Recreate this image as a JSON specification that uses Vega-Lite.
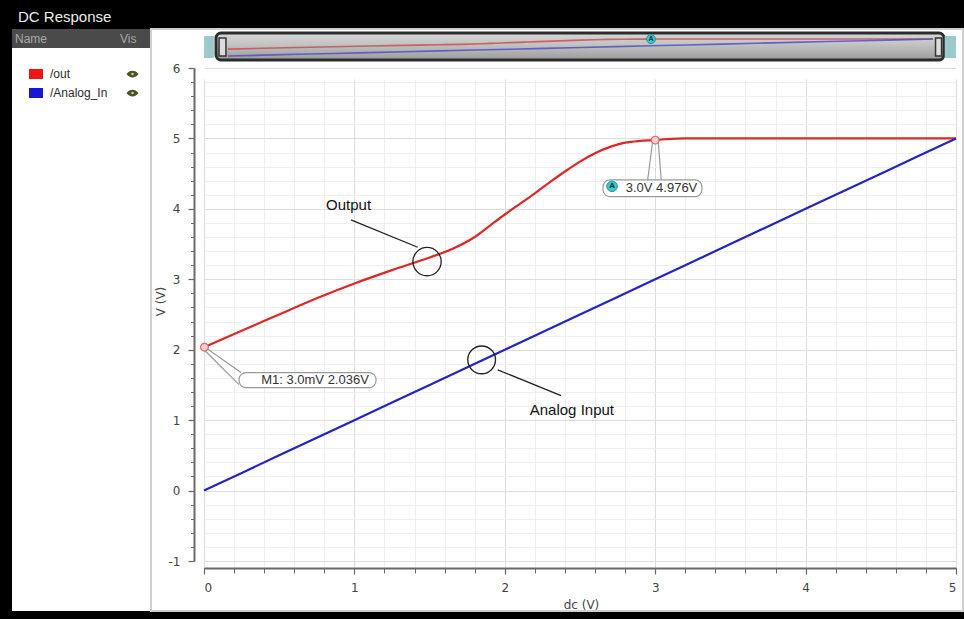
{
  "$schema": "https://vega.github.io/schema/vega-lite/v6.json",
  "background": "#000000",
  "padding": {"left": 12, "right": 2, "top": 10, "bottom": 9},
  "title": {"text": "DC Response", "anchor": "start", "color": "#ececec", "fontSize": 15, "font": "Liberation Sans", "fontWeight": "normal", "offset": 3, "dx": 6},
  "config": {"view": {"stroke": null}, "concat": {"spacing": 0}},
  "datasets": {
    "curves": [
      {"signal": "/out", "dc": 0, "v": 2.036},
      {"signal": "/out", "dc": 0.25, "v": 2.27},
      {"signal": "/out", "dc": 0.5, "v": 2.5},
      {"signal": "/out", "dc": 0.75, "v": 2.73},
      {"signal": "/out", "dc": 1, "v": 2.94},
      {"signal": "/out", "dc": 1.25, "v": 3.13},
      {"signal": "/out", "dc": 1.5, "v": 3.31},
      {"signal": "/out", "dc": 1.65, "v": 3.43},
      {"signal": "/out", "dc": 1.8, "v": 3.6},
      {"signal": "/out", "dc": 1.9, "v": 3.76},
      {"signal": "/out", "dc": 2, "v": 3.92},
      {"signal": "/out", "dc": 2.1, "v": 4.07},
      {"signal": "/out", "dc": 2.2, "v": 4.22},
      {"signal": "/out", "dc": 2.3, "v": 4.38},
      {"signal": "/out", "dc": 2.4, "v": 4.53},
      {"signal": "/out", "dc": 2.5, "v": 4.67},
      {"signal": "/out", "dc": 2.6, "v": 4.79},
      {"signal": "/out", "dc": 2.7, "v": 4.88},
      {"signal": "/out", "dc": 2.8, "v": 4.94},
      {"signal": "/out", "dc": 2.9, "v": 4.965},
      {"signal": "/out", "dc": 3, "v": 4.976},
      {"signal": "/out", "dc": 3.1, "v": 4.995},
      {"signal": "/out", "dc": 3.2, "v": 5},
      {"signal": "/out", "dc": 3.5, "v": 5},
      {"signal": "/out", "dc": 4, "v": 5},
      {"signal": "/out", "dc": 4.5, "v": 5},
      {"signal": "/out", "dc": 5, "v": 5},
      {"signal": "/Analog_In", "dc": 0, "v": 0},
      {"signal": "/Analog_In", "dc": 0.5, "v": 0.5},
      {"signal": "/Analog_In", "dc": 1, "v": 1},
      {"signal": "/Analog_In", "dc": 1.5, "v": 1.5},
      {"signal": "/Analog_In", "dc": 2, "v": 2},
      {"signal": "/Analog_In", "dc": 2.5, "v": 2.5},
      {"signal": "/Analog_In", "dc": 3, "v": 3},
      {"signal": "/Analog_In", "dc": 3.5, "v": 3.5},
      {"signal": "/Analog_In", "dc": 4, "v": 4},
      {"signal": "/Analog_In", "dc": 4.5, "v": 4.5},
      {"signal": "/Analog_In", "dc": 5, "v": 5}
    ],
    "signals": [{"signal": "/out"}, {"signal": "/Analog_In"}],
    "header": [{"col": "Name"}, {"col": "Vis"}],
    "one": [{}]
  },
  "hconcat": [
    {
      "vconcat": [
        {
          "width": 103, "height": 19,
          "view": {"fill": "#4a4a4a", "stroke": null},
          "data": {"name": "header"},
          "transform": [{"filter": "datum.col === 'Name'"}],
          "mark": {"type": "text", "align": "left", "baseline": "middle", "font": "Liberation Sans", "fontSize": 12, "color": "#a8a8a8"},
          "encoding": {
            "x": {"field": "col", "type": "nominal", "scale": {"type": "point", "domain": ["Name"], "range": [3, 103], "padding": 0, "align": 0}, "axis": null},
            "text": {"field": "col"}
          }
        },
        {
          "width": 103, "height": 563,
          "view": {"fill": "#ffffff", "stroke": null},
          "data": {"name": "signals"},
          "encoding": {
            "y": {"field": "signal", "type": "nominal", "scale": {"type": "point", "domain": ["/out", "/Analog_In"], "range": [26, 45], "padding": 0}, "axis": null}
          },
          "layer": [
            {
              "mark": {"type": "point", "shape": "M-1.4,-1H1.4V1H-1.4Z", "size": 100, "filled": true, "opacity": 1},
              "encoding": {
                "x": {"datum": "swatch", "type": "nominal", "scale": {"type": "point", "domain": ["swatch", "label"], "range": [24, 38], "padding": 0}, "axis": null},
                "color": {"field": "signal", "type": "nominal", "scale": {"domain": ["/out", "/Analog_In"], "range": ["#f01414", "#1616d6"]}, "legend": null}
              }
            },
            {
              "mark": {"type": "text", "align": "left", "baseline": "middle", "font": "Liberation Sans", "fontSize": 12, "color": "#2a2a2a"},
              "encoding": {
                "x": {"datum": "label", "type": "nominal"},
                "text": {"field": "signal"}
              }
            }
          ]
        }
      ]
    },
    {
      "vconcat": [
        {
          "width": 35, "height": 19,
          "view": {"fill": "#4a4a4a", "stroke": null},
          "data": {"name": "header"},
          "transform": [{"filter": "datum.col === 'Vis'"}],
          "mark": {"type": "text", "align": "left", "baseline": "middle", "font": "Liberation Sans", "fontSize": 12, "color": "#a8a8a8"},
          "encoding": {
            "x": {"field": "col", "type": "nominal", "scale": {"type": "point", "domain": ["Vis"], "range": [5, 35], "padding": 0, "align": 0}, "axis": null},
            "text": {"field": "col"}
          }
        },
        {
          "width": 35, "height": 563,
          "view": {"fill": "#ffffff", "stroke": null},
          "data": {"name": "signals"},
          "encoding": {
            "y": {"field": "signal", "type": "nominal", "scale": {"type": "point", "domain": ["/out", "/Analog_In"], "range": [26, 45], "padding": 0}, "axis": null}
          },
          "layer": [
            {"mark": {"type": "point", "shape": "M-1,0C-0.5,-0.75 0.5,-0.75 1,0C0.5,0.75 -0.5,0.75 -1,0Z", "size": 144, "filled": true, "color": "#4b5224", "opacity": 1}},
            {"mark": {"type": "point", "shape": "circle", "size": 7, "filled": true, "color": "#c9cc8a", "opacity": 1}}
          ]
        }
      ]
    },
    {
      "width": 812, "height": 582,
      "view": {"fill": "#ffffff", "stroke": "#cfcfcf", "strokeWidth": 2},
      "resolve": {"scale": {"x": "independent", "y": "independent", "color": "independent"}},
      "layer": [
        {
          "data": {"name": "curves"},
          "resolve": {"axis": {"x": "independent", "y": "independent"}},
          "layer": [
            {
              "data": {"name": "one"},
              "mark": {"type": "rect", "cornerRadius": 5, "stroke": "#2b2b2b", "strokeWidth": 3,
                "fill": {"gradient": "linear", "x1": 0, "y1": 0, "x2": 0, "y2": 1, "stops": [{"offset": 0, "color": "#d6d6d6"}, {"offset": 0.4, "color": "#c4c4c4"}, {"offset": 1, "color": "#9c9c9c"}]}},
              "encoding": {
                "x": {"datum": 0.08, "type": "quantitative", "scale": {"domain": [0, 5], "range": [53, 805]},
                  "axis": {"orient": "bottom", "offset": -43, "values": [0, 0.2, 0.4, 0.6, 0.8, 1, 1.2, 1.4, 1.6, 1.8, 2, 2.2, 2.4, 2.6, 2.8, 3, 3.2, 3.4, 3.6, 3.8, 4, 4.2, 4.4, 4.6, 4.8, 5], "labels": false, "domain": false, "ticks": true, "tickSize": 5, "tickColor": "#666666", "tickWidth": 1, "grid": true, "gridColor": "#eeeeee", "gridWidth": 1, "title": null}},
                "x2": {"datum": 4.92},
                "y": {"datum": 6.497, "type": "quantitative", "scale": {"domain": [-1, 6], "range": [532, 39]},
                  "axis": {"orient": "left", "offset": -43, "values": [-1, -0.8, -0.6, -0.4, -0.2, 0, 0.2, 0.4, 0.6, 0.8, 1, 1.2, 1.4, 1.6, 1.8, 2, 2.2, 2.4, 2.6, 2.8, 3, 3.2, 3.4, 3.6, 3.8, 4, 4.2, 4.4, 4.6, 4.8, 5, 5.2, 5.4, 5.6, 5.8, 6], "labels": false, "domain": false, "ticks": true, "tickSize": 3.5, "tickColor": "#666666", "tickWidth": 1, "grid": true, "gridColor": "#eeeeee", "gridWidth": 1, "title": null}},
                "y2": {"datum": 6.114}
              }
            },
            {
              "data": {"name": "one"},
              "mark": {"type": "rect", "color": "#9ccaca", "opacity": 1},
              "encoding": {"x": {"datum": 0.0, "axis": null}, "x2": {"datum": 0.066}, "y": {"datum": 6.454, "axis": null}, "y2": {"datum": 6.142}}
            },
            {
              "data": {"name": "one"},
              "mark": {"type": "rect", "color": "#9ccaca", "opacity": 1},
              "encoding": {"x": {"datum": 4.925, "axis": null}, "x2": {"datum": 5.0}, "y": {"datum": 6.454, "axis": null}, "y2": {"datum": 6.142}}
            },
            {
              "data": {"name": "one"},
              "mark": {"type": "rect", "fill": "#dcdcdc", "stroke": "#333333", "strokeWidth": 1.5},
              "encoding": {"x": {"datum": 0.1, "axis": null}, "x2": {"datum": 0.146}, "y": {"datum": 6.426, "axis": null}, "y2": {"datum": 6.17}}
            },
            {
              "data": {"name": "one"},
              "mark": {"type": "rect", "fill": "#dcdcdc", "stroke": "#333333", "strokeWidth": 1.5},
              "encoding": {"x": {"datum": 4.864, "axis": null}, "x2": {"datum": 4.904}, "y": {"datum": 6.426, "axis": null}, "y2": {"datum": 6.17}}
            },
            {
              "mark": {"type": "line", "strokeWidth": 2.2, "interpolate": "monotone"},
              "encoding": {
                "x": {"field": "dc", "type": "quantitative", "scale": {"domain": [0, 5], "range": [53, 805]},
                  "axis": {"orient": "bottom", "offset": -43, "values": [0, 1, 2, 3, 4, 5], "labelExpr": "'' + datum.value", "labelFont": "DejaVu Sans", "labelFontSize": 12, "labelColor": "#444444", "labelPadding": 8, "tickSize": 6, "tickColor": "#666666", "tickWidth": 1.2, "domainColor": "#6a6a6a", "domainWidth": 2, "grid": true, "gridColor": "#dcdcdc", "gridWidth": 1,
                    "title": "dc (V)", "titleFont": "DejaVu Sans", "titleFontSize": 12, "titleFontWeight": "normal", "titleColor": "#444444", "titleX": 430, "titleY": 31, "titleBaseline": "top", "titleAlign": "center"}},
                "y": {"field": "v", "type": "quantitative", "scale": {"domain": [-1, 6], "range": [532, 39]},
                  "axis": {"orient": "left", "offset": -43, "values": [-1, 0, 1, 2, 3, 4, 5, 6], "labelExpr": "'' + datum.value", "labelFont": "DejaVu Sans", "labelFontSize": 12, "labelColor": "#444444", "labelPadding": 8, "tickSize": 6, "tickColor": "#666666", "tickWidth": 1.2, "domainColor": "#6a6a6a", "domainWidth": 2, "grid": true, "gridColor": "#dcdcdc", "gridWidth": 1,
                    "title": "V (V)", "titleFont": "DejaVu Sans", "titleFontSize": 12, "titleFontWeight": "normal", "titleColor": "#444444", "titleX": -27, "titleY": 272, "titleAngle": 270, "titleBaseline": "bottom", "titleAlign": "center"}},
                "color": {"field": "signal", "type": "nominal", "scale": {"domain": ["/out", "/Analog_In"], "range": ["#e02626", "#2424c4"]}, "legend": null}
              }
            },
            {
              "data": {"name": "one"},
              "mark": {"type": "point", "shape": "circle", "size": 800, "filled": false, "stroke": "#222222", "strokeWidth": 1.3, "opacity": 1},
              "encoding": {"x": {"datum": 1.483, "axis": null}, "y": {"datum": 3.251, "axis": null}}
            },
            {
              "data": {"name": "one"},
              "mark": {"type": "rule", "color": "#222222", "strokeWidth": 1.3},
              "encoding": {"x": {"datum": 0.977, "axis": null}, "y": {"datum": 3.844, "axis": null}, "x2": {"datum": 1.421}, "y2": {"datum": 3.455}}
            },
            {
              "data": {"name": "one"},
              "mark": {"type": "text", "text": "Output", "font": "Liberation Sans", "fontSize": 15, "color": "#111111", "align": "center", "baseline": "middle"},
              "encoding": {"x": {"datum": 0.961, "axis": null}, "y": {"datum": 4.061, "axis": null}}
            },
            {
              "data": {"name": "one"},
              "mark": {"type": "point", "shape": "circle", "size": 770, "filled": false, "stroke": "#222222", "strokeWidth": 1.3, "opacity": 1},
              "encoding": {"x": {"datum": 1.846, "axis": null}, "y": {"datum": 1.856, "axis": null}}
            },
            {
              "data": {"name": "one"},
              "mark": {"type": "rule", "color": "#222222", "strokeWidth": 1.3},
              "encoding": {"x": {"datum": 1.953, "axis": null}, "y": {"datum": 1.714, "axis": null}, "x2": {"datum": 2.374}, "y2": {"datum": 1.349}}
            },
            {
              "data": {"name": "one"},
              "mark": {"type": "text", "text": "Analog Input", "font": "Liberation Sans", "fontSize": 15, "color": "#111111", "align": "center", "baseline": "middle"},
              "encoding": {"x": {"datum": 2.446, "axis": null}, "y": {"datum": 1.146, "axis": null}}
            },
            {
              "data": {"name": "one"},
              "mark": {"type": "rule", "color": "#9a9a9a", "strokeWidth": 1.2},
              "encoding": {"x": {"datum": 0.0, "axis": null}, "y": {"datum": 2.045, "axis": null}, "x2": {"datum": 0.246}, "y2": {"datum": 1.675}}
            },
            {
              "data": {"name": "one"},
              "mark": {"type": "rule", "color": "#9a9a9a", "strokeWidth": 1.2},
              "encoding": {"x": {"datum": 0.0, "axis": null}, "y": {"datum": 2.0, "axis": null}, "x2": {"datum": 0.233}, "y2": {"datum": 1.505}}
            },
            {
              "data": {"name": "one"},
              "mark": {"type": "rect", "cornerRadius": 7, "fill": "#ffffff", "stroke": "#9a9a9a", "strokeWidth": 1.2},
              "encoding": {"x": {"datum": 0.233, "axis": null}, "x2": {"datum": 1.144}, "y": {"datum": 1.675, "axis": null}, "y2": {"datum": 1.462}}
            },
            {
              "data": {"name": "one"},
              "mark": {"type": "text", "text": "M1: 3.0mV 2.036V", "font": "Liberation Sans", "fontSize": 13, "color": "#333333", "align": "center", "baseline": "middle"},
              "encoding": {"x": {"datum": 0.738, "axis": null}, "y": {"datum": 1.569, "axis": null}}
            },
            {
              "data": {"name": "one"},
              "mark": {"type": "point", "shape": "circle", "size": 60, "filled": true, "fill": "#f8cfcf", "stroke": "#e06464", "strokeWidth": 1.2, "opacity": 1},
              "encoding": {"x": {"datum": 0.003, "axis": null}, "y": {"datum": 2.036, "axis": null}}
            },
            {
              "data": {"name": "one"},
              "mark": {"type": "rule", "color": "#9a9a9a", "strokeWidth": 1.2},
              "encoding": {"x": {"datum": 2.983, "axis": null}, "y": {"datum": 4.96, "axis": null}, "x2": {"datum": 2.95}, "y2": {"datum": 4.41}}
            },
            {
              "data": {"name": "one"},
              "mark": {"type": "rule", "color": "#9a9a9a", "strokeWidth": 1.2},
              "encoding": {"x": {"datum": 3.02, "axis": null}, "y": {"datum": 4.96, "axis": null}, "x2": {"datum": 3.04}, "y2": {"datum": 4.41}}
            },
            {
              "data": {"name": "one"},
              "mark": {"type": "rect", "cornerRadius": 7, "fill": "#ffffff", "stroke": "#9a9a9a", "strokeWidth": 1.2},
              "encoding": {"x": {"datum": 2.653, "axis": null}, "x2": {"datum": 3.311}, "y": {"datum": 4.412, "axis": null}, "y2": {"datum": 4.174}}
            },
            {
              "data": {"name": "one"},
              "mark": {"type": "point", "shape": "circle", "size": 110, "filled": true, "fill": "#3ec6cf", "stroke": "#1c969c", "strokeWidth": 1, "opacity": 1},
              "encoding": {"x": {"datum": 2.713, "axis": null}, "y": {"datum": 4.32, "axis": null}}
            },
            {
              "data": {"name": "one"},
              "mark": {"type": "text", "text": "A", "font": "Liberation Sans", "fontSize": 8, "fontWeight": "bold", "color": "#0d3b40", "align": "center", "baseline": "middle"},
              "encoding": {"x": {"datum": 2.713, "axis": null}, "y": {"datum": 4.32, "axis": null}}
            },
            {
              "data": {"name": "one"},
              "mark": {"type": "text", "text": "3.0V 4.976V", "font": "Liberation Sans", "fontSize": 13, "color": "#333333", "align": "center", "baseline": "middle"},
              "encoding": {"x": {"datum": 3.042, "axis": null}, "y": {"datum": 4.3, "axis": null}}
            },
            {
              "data": {"name": "one"},
              "mark": {"type": "point", "shape": "circle", "size": 60, "filled": true, "fill": "#f8cfcf", "stroke": "#e06464", "strokeWidth": 1.2, "opacity": 1},
              "encoding": {"x": {"datum": 3.0, "axis": null}, "y": {"datum": 4.976, "axis": null}}
            }
          ]
        },
        {
          "data": {"name": "curves"},
          "layer": [
            {
              "mark": {"type": "line", "strokeWidth": 1.6, "opacity": 0.8, "interpolate": "monotone"},
              "encoding": {
                "x": {"field": "dc", "type": "quantitative", "scale": {"domain": [0, 5], "range": [77, 782]}, "axis": null},
                "y": {"field": "v", "type": "quantitative", "scale": {"domain": [0, 5], "range": [27, 10]}, "axis": null},
                "color": {"field": "signal", "type": "nominal", "scale": {"domain": ["/out", "/Analog_In"], "range": ["#c84a4a", "#4a4ac6"]}, "legend": null}
              }
            },
            {
              "data": {"name": "one"},
              "mark": {"type": "point", "shape": "circle", "size": 80, "filled": true, "fill": "#3ec6cf", "stroke": "#1c969c", "strokeWidth": 1, "opacity": 1},
              "encoding": {"x": {"datum": 3.0}, "y": {"datum": 4.976}}
            },
            {
              "data": {"name": "one"},
              "mark": {"type": "text", "text": "A", "font": "Liberation Sans", "fontSize": 7, "fontWeight": "bold", "color": "#0d3b40", "align": "center", "baseline": "middle"},
              "encoding": {"x": {"datum": 3.0}, "y": {"datum": 4.976}}
            }
          ]
        }
      ]
    }
  ]
}
